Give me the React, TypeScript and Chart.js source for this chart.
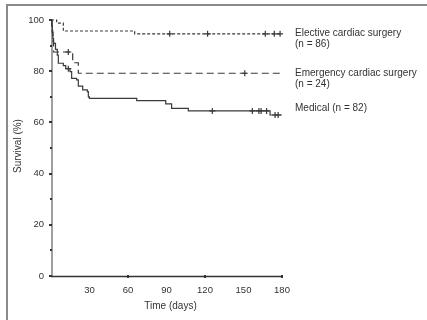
import React, { useEffect, useRef } from "react";
import { Chart, registerables } from "chart.js";

Chart.register(...registerables);

// Kaplan–Meier survival after admission, by treatment group
const xTickLabels = [30, 60, 90, 120, 150, 180];
const xTickMarks = [60, 120, 180];
const yTickLabels = [0, 20, 40, 60, 80, 100];
const yMinorTicks = [10, 30, 50, 70, 90];

// Elective cardiac surgery (n = 86)
const electiveTimes = [0, 4.4, 9.6, 65.2, 178.5];
const electiveSurvival = [100, 98.8, 95.7, 94.6, 94.6];
const electiveCensored = [92.5, 122, 167, 174, 178.5];

// Emergency cardiac surgery (n = 24)
const emergencyTimes = [0, 0.8, 1.4, 2, 16.9, 21.3, 180];
const emergencySurvival = [100, 95.8, 91.7, 87.5, 83.3, 79.2, 79.2];
const emergencyCensored = [13.5, 151];

// Medical (n = 82)
const medicalTimes = [
  0, 0.5, 1, 1.5, 2, 3.5, 4.9, 5.7, 9.6, 11.5, 14.8, 16.1, 20, 21.3, 24.7,
  28.3, 29.1, 29.9, 66.8, 89.4, 94, 107, 170.7, 179.8,
];
const medicalSurvival = [
  100, 97.6, 95.1, 92.7, 90.9, 88.5, 86.3, 83.1, 82.2, 81.0, 79.8, 77.2, 76.6,
  74.2, 72.7, 72.0, 70.0, 69.4, 68.5, 67.2, 65.5, 64.5, 62.9, 62.9,
];
const medicalCensored = [13.5, 125.7, 156.9, 162, 163.7, 168, 174.6, 177];

const legendLines = [
  ["Elective cardiac surgery", "(n = 86)"],
  ["Emergency cardiac surgery", "(n = 24)"],
  ["Medical (n = 82)"],
];

const INK = "#333333";
const FONT = "'Liberation Sans', Arial, sans-serif";

function toPoints(times: number[], surv: number[]) {
  return times.map((t, i) => ({ x: t, y: surv[i] }));
}

function survivalAt(times: number[], surv: number[], t: number) {
  let s = surv[0];
  for (let i = 0; i < times.length; i++) {
    if (times[i] <= t) s = surv[i];
  }
  return s;
}

function censorPoints(times: number[], surv: number[], censored: number[]) {
  return censored.map((t) => ({ x: t, y: survivalAt(times, surv, t) }));
}

const axesPlugin = {
  id: "kmAxes",
  beforeDatasetsDraw(chart: any) {
    const { ctx, chartArea, scales } = chart;
    const xs = scales.x;
    const ys = scales.y;
    ctx.save();
    // vertical axis
    ctx.strokeStyle = "#a0a0a0";
    ctx.lineWidth = 2;
    ctx.beginPath();
    ctx.moveTo(chartArea.left + 1, ys.getPixelForValue(100));
    ctx.lineTo(chartArea.left + 1, ys.getPixelForValue(0));
    ctx.stroke();
    // horizontal axis
    ctx.strokeStyle = INK;
    ctx.lineWidth = 1.5;
    ctx.beginPath();
    ctx.moveTo(chartArea.left, ys.getPixelForValue(0) + 0.5);
    ctx.lineTo(xs.getPixelForValue(180), ys.getPixelForValue(0) + 0.5);
    ctx.stroke();
    ctx.restore();
  },
  afterDraw(chart: any) {
    const { ctx, chartArea, scales } = chart;
    const xs = scales.x;
    const ys = scales.y;
    ctx.save();
    ctx.fillStyle = INK;
    // y ticks
    for (const v of yTickLabels) {
      const y = ys.getPixelForValue(v);
      ctx.fillRect(chartArea.left - 2, Math.round(y) - 1, 3, 2);
    }
    for (const v of yMinorTicks) {
      const y = ys.getPixelForValue(v);
      ctx.fillRect(chartArea.left - 1, Math.round(y) - 1, 2, 2);
    }
    ctx.font = `9.5px ${FONT}`;
    ctx.textAlign = "right";
    ctx.textBaseline = "middle";
    for (const v of yTickLabels) {
      ctx.fillText(String(v), chartArea.left - 7, ys.getPixelForValue(v));
    }
    // x ticks
    const y0 = ys.getPixelForValue(0);
    for (const v of xTickMarks) {
      const x = xs.getPixelForValue(v);
      ctx.fillRect(Math.round(x) - 1, y0 - 1, 2, 3);
    }
    ctx.textAlign = "center";
    ctx.textBaseline = "middle";
    for (const v of xTickLabels) {
      ctx.fillText(String(v), xs.getPixelForValue(v), y0 + 14);
    }
    // axis titles
    ctx.font = `10px ${FONT}`;
    ctx.fillText("Time (days)", (chartArea.left + chartArea.right) / 2 + 4, y0 + 30);
    ctx.save();
    ctx.translate(18, (chartArea.top + chartArea.bottom) / 2 - 2);
    ctx.rotate(-Math.PI / 2);
    ctx.fillText("Survival (%)", 0, 0);
    ctx.restore();
    // series labels
    ctx.font = `10px ${FONT}`;
    ctx.textAlign = "left";
    const lx = chartArea.right + 13;
    const tops = [chartArea.top + 13, chartArea.top + 53, chartArea.top + 88];
    legendLines.forEach((lines, i) => {
      lines.forEach((line, j) => {
        ctx.fillText(line, lx, tops[i] + j * 11);
      });
    });
    // frame
    ctx.strokeStyle = "#8a8a8a";
    ctx.lineWidth = 2;
    ctx.beginPath();
    ctx.moveTo(7, chart.height);
    ctx.lineTo(7, 5);
    ctx.lineTo(chart.width, 5);
    ctx.stroke();
    ctx.restore();
  },
};

export default function App() {
  const canvasRef = useRef<HTMLCanvasElement | null>(null);

  useEffect(() => {
    const canvas = canvasRef.current;
    if (!canvas) return;
    const lineBase = {
      type: "line" as const,
      pointRadius: 0,
      pointHoverRadius: 0,
      borderWidth: 1.2,
      borderColor: "#3a3a3a",
      fill: false,
      stepped: "before" as const,
      clip: 6,
    };
    const censorBase = {
      type: "line" as const,
      showLine: false,
      pointStyle: "cross" as const,
      pointRadius: 3,
      pointBorderWidth: 1.2,
      pointBorderColor: "#3a3a3a",
      borderColor: "#3a3a3a",
      backgroundColor: "#3a3a3a",
      clip: 6,
    };
    const chart = new Chart(canvas, {
      type: "line",
      data: {
        datasets: [
          {
            ...lineBase,
            label: "Elective cardiac surgery",
            data: toPoints(electiveTimes, electiveSurvival),
            borderDash: [3, 2],
          },
          {
            ...lineBase,
            label: "Emergency cardiac surgery",
            data: toPoints(emergencyTimes, emergencySurvival),
            borderDash: [7, 4],
          },
          {
            ...lineBase,
            label: "Medical",
            data: toPoints(medicalTimes, medicalSurvival),
          },
          {
            ...censorBase,
            label: "Elective censored",
            data: censorPoints(electiveTimes, electiveSurvival, electiveCensored),
          },
          {
            ...censorBase,
            label: "Emergency censored",
            data: censorPoints(emergencyTimes, emergencySurvival, emergencyCensored),
          },
          {
            ...censorBase,
            label: "Medical censored",
            data: censorPoints(medicalTimes, medicalSurvival, medicalCensored),
          },
        ],
      },
      options: {
        responsive: false,
        animation: false,
        devicePixelRatio: 1,
        layout: { padding: { left: 51, right: 145, top: 20, bottom: 44 } },
        scales: {
          x: { type: "linear", min: 0, max: 180, display: false },
          y: { type: "linear", min: 0, max: 100, display: false },
        },
        plugins: {
          legend: { display: false },
          tooltip: { enabled: false },
        },
        events: [],
      },
      plugins: [axesPlugin],
    });
    return () => chart.destroy();
  }, []);

  return (
    <div
      style={{
        position: "fixed",
        left: 0,
        top: 0,
        width: 427,
        height: 320,
        background: "#ffffff",
      }}
    >
      <canvas ref={canvasRef} width={427} height={320} style={{ display: "block" }} />
    </div>
  );
}
